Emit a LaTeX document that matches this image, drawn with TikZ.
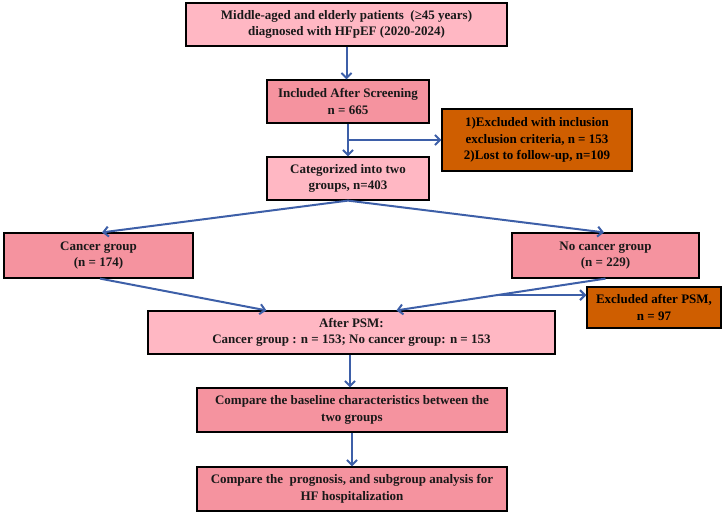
\documentclass[tikz,border=0pt]{standalone}
\usepackage{fontspec}
\setmainfont{Liberation Serif}
\usetikzlibrary{arrows.meta,calc}
\definecolor{lpink}{HTML}{FFB7C3}
\definecolor{dpink}{HTML}{F5939F}
\definecolor{exorange}{HTML}{CF5E00}
\definecolor{arrblue}{HTML}{3D5FA8}
\tikzset{
  box/.style={draw=black, line width=1.2pt, align=center, inner sep=0pt,
    font=\fontsize{13}{16.5}\selectfont\bfseries, text=black!90},
  lbox/.style={box, fill=lpink},
  dbox/.style={box, fill=dpink},
  obox/.style={box, fill=exorange, text=black},
  conn/.style={draw=arrblue, line width=2pt, -{Straight Barb[length=5pt,width=10pt,line width=2pt]}},
}
\begin{document}
\begin{tikzpicture}[x=1pt,y=1pt]
\useasboundingbox (0,0) rectangle (723,-517);
\node[lbox, minimum width=321pt, minimum height=43pt] (top) at (346.5,-24.5)
  {Middle-aged and elderly patients\ \ (≥45 years)\\diagnosed with HFpEF (2020-2024)};
\node[dbox, minimum width=162pt, minimum height=43pt] (inc) at (348,-101.5)
  {Included After Screening\\n = 665};
\node[obox, minimum width=190pt, minimum height=62pt] (ex1) at (537,-140)
  {1)Excluded with inclusion\\exclusion criteria, n = 153\\2)Lost to follow-up, n=109};
\node[lbox, minimum width=162pt, minimum height=43pt] (cat) at (348,-178.5)
  {Categorized into two\\groups, n=403};
\node[dbox, minimum width=189pt, minimum height=45pt] (can) at (98.5,-255.5)
  {Cancer group\\(n = 174)};
\node[dbox, minimum width=187pt, minimum height=45pt] (nocan) at (605.5,-255.5)
  {No cancer group\\(n = 229)};
\node[obox, minimum width=134pt, minimum height=41pt] (ex2) at (654,-307.5)
  {Excluded after PSM,\\n = 97};
\node[lbox, minimum width=407pt, minimum height=43pt] (psm) at (351.5,-332.5)
  {After PSM:\\Cancer group : n = 153; No cancer group: n = 153};
\node[dbox, minimum width=310pt, minimum height=44pt] (cmp1) at (352,-410)
  {Compare the baseline characteristics between the\\two groups};
\node[dbox, minimum width=310pt, minimum height=44pt] (cmp2) at (352,-489)
  {Compare the\ \ prognosis, and subgroup analysis for\\HF hospitalization};
% connectors
\draw[conn] (top.south) -- (top.south |- inc.north);
\draw[conn] (inc.south) -- (cat.north);
\coordinate (b1) at (inc.south |- ex1.west);
\draw[conn] (b1) -- (ex1.west);
\draw[conn] (cat.south) -- ($(can.north)+(3.5,0)$);
\draw[conn] (cat.south) -- ($(nocan.north)+(-1.5,0)$);
\coordinate (psmL) at ($(psm.north west)+(119,0)$);
\coordinate (psmR) at ($(psm.north west)+(249,0)$);
\draw[conn] ($(can.south)+(1.5,0)$) -- (psmL);
\draw[conn] (nocan.south) -- (psmR);
\coordinate (b2) at ($(nocan.south)!0.52!(psmR)$);
\draw[conn] (b2) -- (b2 -| ex2.west);
\coordinate (c1t) at ($(cmp1.north)+(-2,0)$);
\draw[conn] (c1t |- psm.south) -- (c1t);
\draw[conn] (cmp1.south) -- (cmp2.north);
\end{tikzpicture}
\end{document}
